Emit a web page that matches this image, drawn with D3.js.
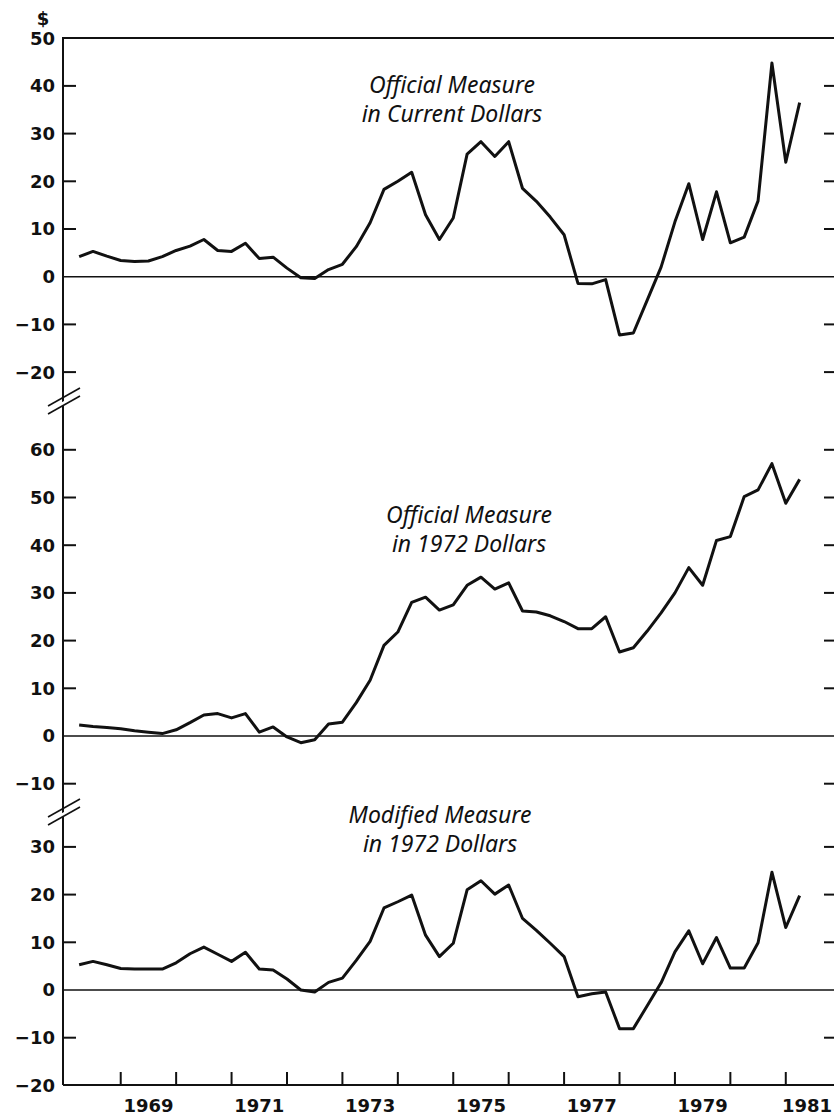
<!DOCTYPE html>
<html>
<head>
<meta charset="utf-8">
<script src="https://cdn.jsdelivr.net/npm/d3@7"></script>
<style>
  body { margin: 0; background: #fff; }
  svg { display: block; }
  .tick-label { font-family: "DejaVu Sans", sans-serif; font-weight: bold; font-size: 18px; fill: #111; }
  .panel-title { font-family: "Noto Sans", "Lato", sans-serif; font-style: italic; font-size: 23px; fill: #111; }
</style>
</head>
<body>
<svg width="834" height="1116"></svg>
<script>
// quarterly data, 1968 Q1 through 1981 Q1, plotted at end of each quarter
var startYear = 1968;

var currentOfficial = [4.2, 5.3, 4.3, 3.4, 3.2, 3.3, 4.2, 5.5, 6.4, 7.8,
  5.5, 5.3, 7.0, 3.8, 4.1, 1.8, -0.2, -0.4, 1.5, 2.6,
  6.3, 11.3, 18.3, 20.0, 21.9, 13.0, 7.8, 12.3, 25.7, 28.3,
  25.2, 28.3, 18.5, 15.8, 12.5, 8.8, -1.4, -1.5, -0.6, -12.2,
  -11.8, -4.9, 2.0, 11.5, 19.5, 7.8, 17.8, 7.1, 8.3, 15.9,
  44.8, 24.0, 36.5];

var official1972 = [2.3, 2.0, 1.8, 1.5, 1.1, 0.8, 0.5, 1.3, 2.8, 4.4,
  4.7, 3.8, 4.7, 0.8, 1.9, -0.2, -1.4, -0.8, 2.5, 2.9,
  7.0, 11.7, 19.0, 21.8, 28.0, 29.1, 26.4, 27.5, 31.6, 33.3,
  30.8, 32.1, 26.2, 26.0, 25.2, 24.0, 22.5, 22.5, 25.0, 17.6,
  18.5, 22.0, 25.8, 30.0, 35.3, 31.6, 41.0, 41.8, 50.2, 51.6,
  57.1, 48.8, 53.8];

var modified1972 = [5.3, 6.0, 5.3, 4.5, 4.4, 4.4, 4.4, 5.7, 7.6, 9.0,
  7.5, 6.0, 7.9, 4.4, 4.2, 2.3, 0.0, -0.4, 1.6, 2.5,
  6.2, 10.2, 17.2, 18.5, 19.9, 11.5, 7.0, 9.8, 21.0, 22.9,
  20.1, 22.0, 15.0, 12.5, 9.8, 7.0, -1.4, -0.8, -0.4, -8.1,
  -8.1, -3.3, 1.5, 8.0, 12.4, 5.5, 11.0, 4.6, 4.6, 9.9,
  24.7, 13.1, 19.8];

var yearTicks = d3.range(1969, 1982);
var yearLabels = [1969, 1971, 1973, 1975, 1977, 1979, 1981];

var panels = [
  { values: currentOfficial, ticks: [50, 40, 30, 20, 10, 0, -10, -20],
    title: ["Official Measure", "in Current Dollars"] },
  { values: official1972, ticks: [60, 50, 40, 30, 20, 10, 0, -10],
    title: ["Official Measure", "in 1972 Dollars"] },
  { values: modified1972, ticks: [30, 20, 10, 0, -10, -20],
    title: ["Modified Measure", "in 1972 Dollars"] }
];

// layout
var width = 834, height = 1116;
var axisX = 63, rightX = 834, topY = 38, bottomY = 1085;
var unit = 4.77;                 // px per dollar
var zeros = [276.7, 736, 990];   // pixel row of 0 in each panel
var titlePos = [{ x: 452, y: 93 }, { x: 469, y: 523 }, { x: 440, y: 823 }];
var breaks = [405, 816];

var svg = d3.select("svg");

var x = d3.scaleLinear().domain([1968, 1982]).range([65.3, 841.2]);

var line = d3.line()
  .x(function (d) { return x(d.t); });

panels.forEach(function (p, i) {
  var y = d3.scaleLinear()
    .domain([0, 10])
    .range([zeros[i], zeros[i] - 10 * unit]);

  var data = p.values.map(function (v, k) {
    return { t: startYear + (k + 1) / 4, v: v };
  });

  // zero line
  svg.append("line")
    .attr("x1", axisX).attr("x2", rightX)
    .attr("y1", y(0)).attr("y2", y(0))
    .attr("stroke", "#111").attr("stroke-width", 1.6);

  // left and right ticks + labels
  var g = svg.append("g");
  p.ticks.forEach(function (t) {
    if (t !== 0 && !(i === 0 && t === 50) && !(i === 2 && t === -20)) {
      g.append("line")
        .attr("x1", axisX).attr("x2", axisX + 13)
        .attr("y1", y(t)).attr("y2", y(t))
        .attr("stroke", "#111").attr("stroke-width", 2);
      g.append("line")
        .attr("x1", rightX - 10).attr("x2", rightX)
        .attr("y1", y(t)).attr("y2", y(t))
        .attr("stroke", "#111").attr("stroke-width", 2);
    }
    g.append("text")
      .attr("class", "tick-label")
      .attr("x", 55)
      .attr("y", y(t))
      .attr("dy", "0.36em")
      .attr("text-anchor", "end")
      .text(t < 0 ? "\u2212" + Math.abs(t) : t);
  });

  // series
  svg.append("path")
    .datum(data)
    .attr("fill", "none")
    .attr("stroke", "#111")
    .attr("stroke-width", 3)
    .attr("stroke-linejoin", "round")
    .attr("d", line.y(function (d) { return y(d.v); }));

  // title
  var tt = svg.append("text")
    .attr("class", "panel-title")
    .attr("text-anchor", "middle");
  p.title.forEach(function (s, j) {
    tt.append("tspan")
      .attr("x", titlePos[i].x)
      .attr("y", titlePos[i].y + j * 29)
      .text(s);
  });
});

// frame: top border, left axis, bottom axis
svg.append("line")
  .attr("x1", axisX).attr("x2", rightX)
  .attr("y1", topY).attr("y2", topY)
  .attr("stroke", "#111").attr("stroke-width", 2);
svg.append("line")
  .attr("x1", axisX).attr("x2", axisX)
  .attr("y1", topY - 1).attr("y2", bottomY)
  .attr("stroke", "#111").attr("stroke-width", 2);
svg.append("line")
  .attr("x1", axisX).attr("x2", rightX)
  .attr("y1", bottomY).attr("y2", bottomY)
  .attr("stroke", "#111").attr("stroke-width", 2);

// axis breaks
breaks.forEach(function (b) {
  svg.append("polygon")
    .attr("points", [[48, b + 5], [80, b - 13], [80, b - 9], [48, b + 9]].join(" "))
    .attr("fill", "#fff");
  [0, 8].forEach(function (off) {
    svg.append("line")
      .attr("x1", 48).attr("y1", b + 1 + off)
      .attr("x2", 80).attr("y2", b - 17 + off)
      .attr("stroke", "#111").attr("stroke-width", 1.6);
  });
});

// bottom year ticks and labels
svg.selectAll(".yt")
  .data(yearTicks)
  .enter().append("line")
  .attr("x1", function (d) { return x(d); })
  .attr("x2", function (d) { return x(d); })
  .attr("y1", bottomY).attr("y2", bottomY - 13)
  .attr("stroke", "#111").attr("stroke-width", 2);

svg.selectAll(".yl")
  .data(yearLabels)
  .enter().append("text")
  .attr("class", "tick-label")
  .attr("x", function (d) { return Math.min(x(d + 0.5), width - 27); })
  .attr("y", 1112)
  .attr("text-anchor", "middle")
  .text(function (d) { return d; });

// dollar sign
svg.append("text")
  .attr("class", "tick-label")
  .attr("x", 43).attr("y", 25)
  .attr("text-anchor", "middle")
  .text("$");
</script>
</body>
</html>
